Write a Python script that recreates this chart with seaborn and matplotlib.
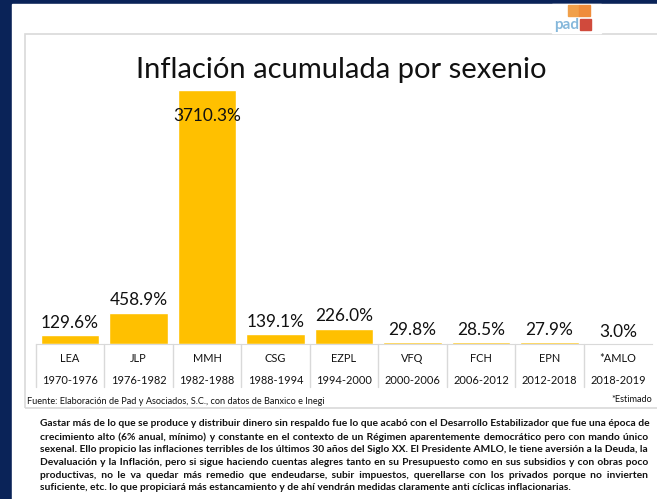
import matplotlib
matplotlib.use("Agg")
import matplotlib.pyplot as plt
import matplotlib.patches as mpatches
import matplotlib.transforms as mtransforms
from matplotlib.font_manager import FontProperties
import seaborn as sns

# === Data ===
presidents = ["LEA", "JLP", "MMH", "CSG", "EZPL", "VFQ", "FCH", "EPN", "*AMLO"]
periods = ["1970-1976", "1976-1982", "1982-1988", "1988-1994", "1994-2000",
           "2000-2006", "2006-2012", "2012-2018", "2018-2019"]
inflation = [129.6, 458.9, 3710.3, 139.1, 226.0, 29.8, 28.5, 27.9, 3.0]

title = "Inflación acumulada por sexenio"
source = "Fuente: Elaboración de Pad y Asociados, S.C., con datos de Banxico e Inegi"
note = "*Estimado"
paragraph = [
    "Gastar más de lo que se produce y distribuir dinero sin respaldo fue lo que acabó con el Desarrollo Estabilizador que fue una época de",
    "crecimiento alto (6% anual, mínimo) y constante en el contexto de un Régimen aparentemente democrático pero con mando único",
    "sexenal. Ello propicio las inflaciones terribles de los últimos 30 años del Siglo XX.  El Presidente AMLO, le tiene aversión a la Deuda, la",
    "Devaluación y la Inflación, pero si sigue haciendo cuentas alegres tanto en su Presupuesto como en sus subsidios y con obras poco",
    "productivas, no le va quedar más remedio que endeudarse, subir impuestos, querellarse con los privados porque no invierten",
    "suficiente, etc. lo que propiciará más estancamiento y de ahí vendrán medidas claramente anti cíclicas inflacionarias.",
]

# === Style ===
NAVY = "#0a2358"
GOLD = "#FFC000"
GRID = "#d9d9d9"
W, H = 657, 499

sns.set_style("white")
plt.rcParams["font.family"] = ["Lato", "DejaVu Sans"]
plt.rcParams["text.color"] = "#111111"


def fx(x):
    return x / W


def fy(y):
    return 1 - y / H


fig = plt.figure(figsize=(W / 100, H / 100), dpi=100, facecolor=NAVY)

# slide background + chart frame
fig.patches.append(mpatches.Rectangle((fx(12), 0), fx(W - 12), 1 - 4 / H,
                                      transform=fig.transFigure, color="white", zorder=-5))
fig.patches.append(mpatches.Rectangle((fx(25), fy(408)), fx(640), (408 - 34) / H,
                                      transform=fig.transFigure, fill=False,
                                      edgecolor=GRID, lw=1.2, zorder=-4))

# logo
fig.patches.append(mpatches.Rectangle((fx(552), fy(33)), fx(49), 29 / H,
                                      transform=fig.transFigure, color="white", zorder=1))
for (x0, y0, c) in [(568, 16, "#f0a04a"), (579, 16, "#ef8c3a"), (580, 30, "#d04a3c")]:
    fig.patches.append(mpatches.Rectangle((fx(x0), fy(y0)), fx(10.5), 11 / H,
                                          transform=fig.transFigure, color=c, zorder=2))
fig.text(fx(579), fy(25), "pad", ha="right", va="center", color="#86b8db",
         fontsize=11, fontweight="bold")

# === Bars ===
ax = fig.add_axes([fx(35.7), fy(344), fx(652.2 - 35.7), (344 - 90) / H])
sns.barplot(x=presidents, y=inflation, color=GOLD, saturation=1, width=0.85, ax=ax)
ax.set_ylim(0, max(inflation))
ax.set_xlim(-0.5, len(presidents) - 0.5)
ax.set_facecolor("none")
for s in ["top", "right", "left"]:
    ax.spines[s].set_visible(False)
ax.spines["bottom"].set_color(GRID)
ax.set_yticks([])
ax.set_xticks([])
ax.set_xlabel("")
ax.set_ylabel("")

trans = mtransforms.blended_transform_factory(ax.transData, ax.transAxes)
for i, (name, per) in enumerate(zip(presidents, periods)):
    ax.text(i, -14 / 254, name, transform=trans, ha="center", va="center", fontsize=7.9)
    ax.text(i, -37 / 254, per, transform=trans, ha="center", va="center", fontsize=7.9)
    ax.plot([i - 0.5, i - 0.5], [0, -43 / 254], transform=trans, color=GRID,
            lw=1, clip_on=False)

for i, v in enumerate(inflation):
    if v == max(inflation):
        ax.annotate(f"{v:.1f}%", (i, v), xytext=(0, -13), textcoords="offset points",
                    ha="center", va="top", fontsize=12.4, annotation_clip=False)
    else:
        ax.annotate(f"{v:.1f}%", (i, v), xytext=(0, 3), textcoords="offset points",
                    ha="center", va="bottom", fontsize=12.4, annotation_clip=False)

# === Texts ===
fig.text(fx(341), fy(70), title, ha="center", va="center", fontsize=21)
fig.text(fx(27), fy(401), source, ha="left", va="center", fontsize=6.6)
fig.text(fx(652), fy(399), note, ha="right", va="center", fontsize=6.6)

# === Justified paragraph: one text per line, gaps padded with narrow spaces ===
renderer = fig.canvas.get_renderer()
x0, x1 = 40, 648


def width(s, prop):
    return renderer.get_text_width_height_descent(s, prop, ismath=False)[0]


p10 = FontProperties(family=["Lato", "DejaVu Sans"], weight="bold", size=10)
lines = [" ".join(l.split()) for l in paragraph]
size = 10 * min(535 / width(lines[-1], p10),
                (x1 - x0 - 2) / max(width(l, p10) for l in lines))
prop = FontProperties(family=["Lato", "DejaVu Sans"], weight="bold", size=size)

# pick the narrowest space character that really has a width
pad, pad_w = " ", width("a" + " " * 10 + "a", prop) / 10
for ch in ["\u200a", "\u2009", "\u2006", "\u2005"]:
    cw = (width("a" + ch * 10 + "a", prop) - width("aa", prop)) / 10
    if 0.3 < cw < pad_w:
        pad, pad_w = ch, cw

baselines = [426.5, 439.5, 452.5, 465, 477.5, 490.5]
for k, (line, yb) in enumerate(zip(lines, baselines)):
    text = line
    if k < len(lines) - 1:
        words = line.split(" ")
        extra = (x1 - x0) - width(line, prop)
        n_pad = max(0, int(round(extra / pad_w)))
        gaps = len(words) - 1
        out, used = words[0], 0
        for g in range(gaps):
            target = int(round(n_pad * (g + 1) / gaps))
            out += " " + pad * (target - used) + words[g + 1]
            used = target
        text = out
    fig.text(fx(x0), fy(yb), text, ha="left", va="baseline", fontproperties=prop)

fig.savefig("out.png", dpi=100, facecolor=fig.get_facecolor())
